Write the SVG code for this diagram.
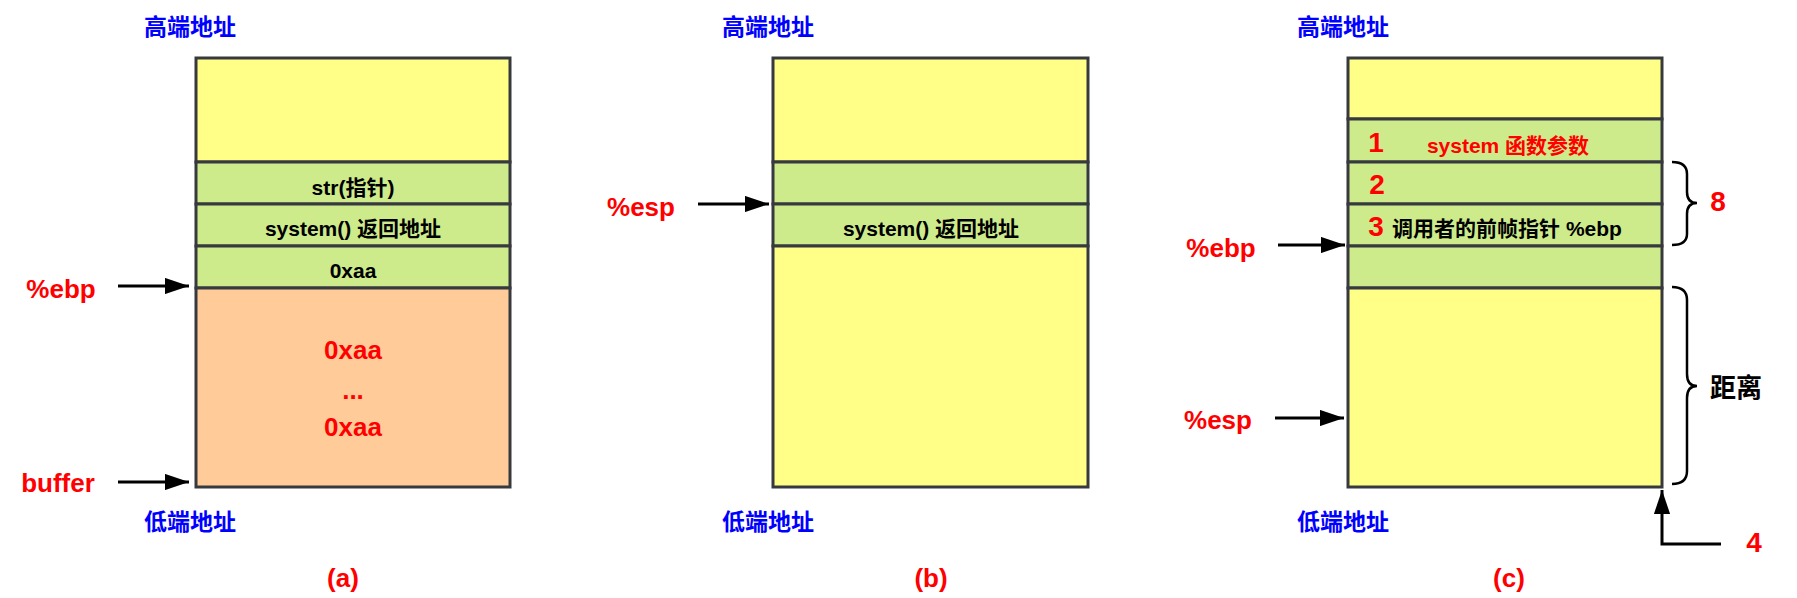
<svg xmlns="http://www.w3.org/2000/svg" width="1797" height="598" viewBox="0 0 1797 598">
<style>
text{font-family:"Liberation Sans","Noto Sans CJK SC",sans-serif;font-weight:bold;dominant-baseline:central;text-anchor:middle}
.addr{fill:#0000FF;font-size:23px}
.red{fill:#FF0000;font-size:26px}
.num{fill:#FF0000;font-size:28px}
.cell{font-size:21px;fill:#000}
.redc{fill:#FF0000;font-size:21px}
.y{fill:#FFFF88;stroke:#36393d;stroke-width:3}
.g{fill:#CDEB8B;stroke:#36393d;stroke-width:3}
.o{fill:#FFCC99;stroke:#36393d;stroke-width:3}
.ln{stroke:#000;stroke-width:3;fill:none}
.br{stroke:#000;stroke-width:2.5;fill:none}
</style>
<defs>
<marker id="ah" markerWidth="8" markerHeight="5.4" refX="8" refY="2.7" orient="auto" markerUnits="strokeWidth">
<path d="M0,0 L8,2.7 L0,5.4 Z" fill="#000"/>
</marker>
</defs>

<!-- Panel (a) -->
<g id="panel-a">
<text class="addr" x="190" y="27">高端地址</text>
<rect class="y" x="196" y="58" width="314" height="104"/>
<rect id="a-str" class="g" x="196" y="162" width="314" height="42"/>
<text class="cell" x="353" y="187">str(指针)</text>
<rect id="a-ret" class="g" x="196" y="204" width="314" height="42"/>
<text class="cell" x="353" y="228">system() 返回地址</text>
<rect id="a-xaa" class="g" x="196" y="246" width="314" height="42"/>
<text class="cell" x="353" y="270">0xaa</text>
<rect id="a-buf" class="o" x="196" y="288" width="314" height="199"/>
<text class="red" x="353" y="350">0xaa</text>
<text class="red" x="353" y="390">...</text>
<text class="red" x="353" y="427">0xaa</text>
<text class="red" x="61" y="289">%ebp</text>
<text class="red" x="58" y="483">buffer</text>
<text class="addr" x="190" y="522">低端地址</text>
<text class="red" x="343" y="578">(a)</text>
</g>

<!-- Panel (b) -->
<g id="panel-b">
<text class="addr" x="768" y="27">高端地址</text>
<rect class="y" x="773" y="58" width="315" height="104"/>
<rect class="g" x="773" y="162" width="315" height="42"/>
<rect id="b-ret" class="g" x="773" y="204" width="315" height="42"/>
<text class="cell" x="931" y="228">system() 返回地址</text>
<rect class="y" x="773" y="246" width="315" height="241"/>
<text class="red" x="641" y="207">%esp</text>
<text class="addr" x="768" y="522">低端地址</text>
<text class="red" x="931" y="578">(b)</text>
</g>

<!-- Panel (c) -->
<g id="panel-c">
<text class="addr" x="1343" y="27">高端地址</text>
<rect class="y" x="1348" y="58" width="314" height="61"/>
<rect id="c-1" class="g" x="1348" y="119" width="314" height="43"/>
<text class="num" x="1376" y="142">1</text>
<text class="redc" x="1508" y="145">system 函数参数</text>
<rect id="c-2" class="g" x="1348" y="162" width="314" height="42"/>
<text class="num" x="1377" y="184">2</text>
<rect id="c-3" class="g" x="1348" y="204" width="314" height="42"/>
<text class="num" x="1376" y="226">3</text>
<text class="cell" x="1507" y="228">调用者的前帧指针 %ebp</text>
<rect class="g" x="1348" y="246" width="314" height="42"/>
<rect class="y" x="1348" y="288" width="314" height="199"/>
<text class="red" x="1221" y="248">%ebp</text>
<text class="red" x="1218" y="420">%esp</text>
<text class="addr" x="1343" y="522">低端地址</text>
<text class="red" x="1509" y="578">(c)</text>
<text class="num" x="1718" y="201">8</text>
<text style="font-size:26px;fill:#000" x="1736" y="388">距离</text>
<text class="num" x="1754" y="542">4</text>
</g>

<!-- Connectors -->
<g id="connectors">
<line class="ln" x1="118" y1="286" x2="189" y2="286" marker-end="url(#ah)"/>
<line class="ln" x1="118" y1="482" x2="189" y2="482" marker-end="url(#ah)"/>
<line class="ln" x1="698" y1="204" x2="769" y2="204" marker-end="url(#ah)"/>
<line class="ln" x1="1278" y1="245" x2="1345" y2="245" marker-end="url(#ah)"/>
<line class="ln" x1="1275" y1="418" x2="1344" y2="418" marker-end="url(#ah)"/>
<polyline class="ln" points="1721,544 1662,544 1662,490" marker-end="url(#ah)"/>
<path class="br" d="M1672,162 Q1687,162 1687,174 V192 Q1687,203 1697,203 Q1687,203 1687,214 V234 Q1687,245 1672,245"/>
<path class="br" d="M1672,287 Q1687,287 1687,300 V374 Q1687,386 1697,386 Q1687,386 1687,398 V471 Q1687,484 1672,484"/>
</g>
</svg>
